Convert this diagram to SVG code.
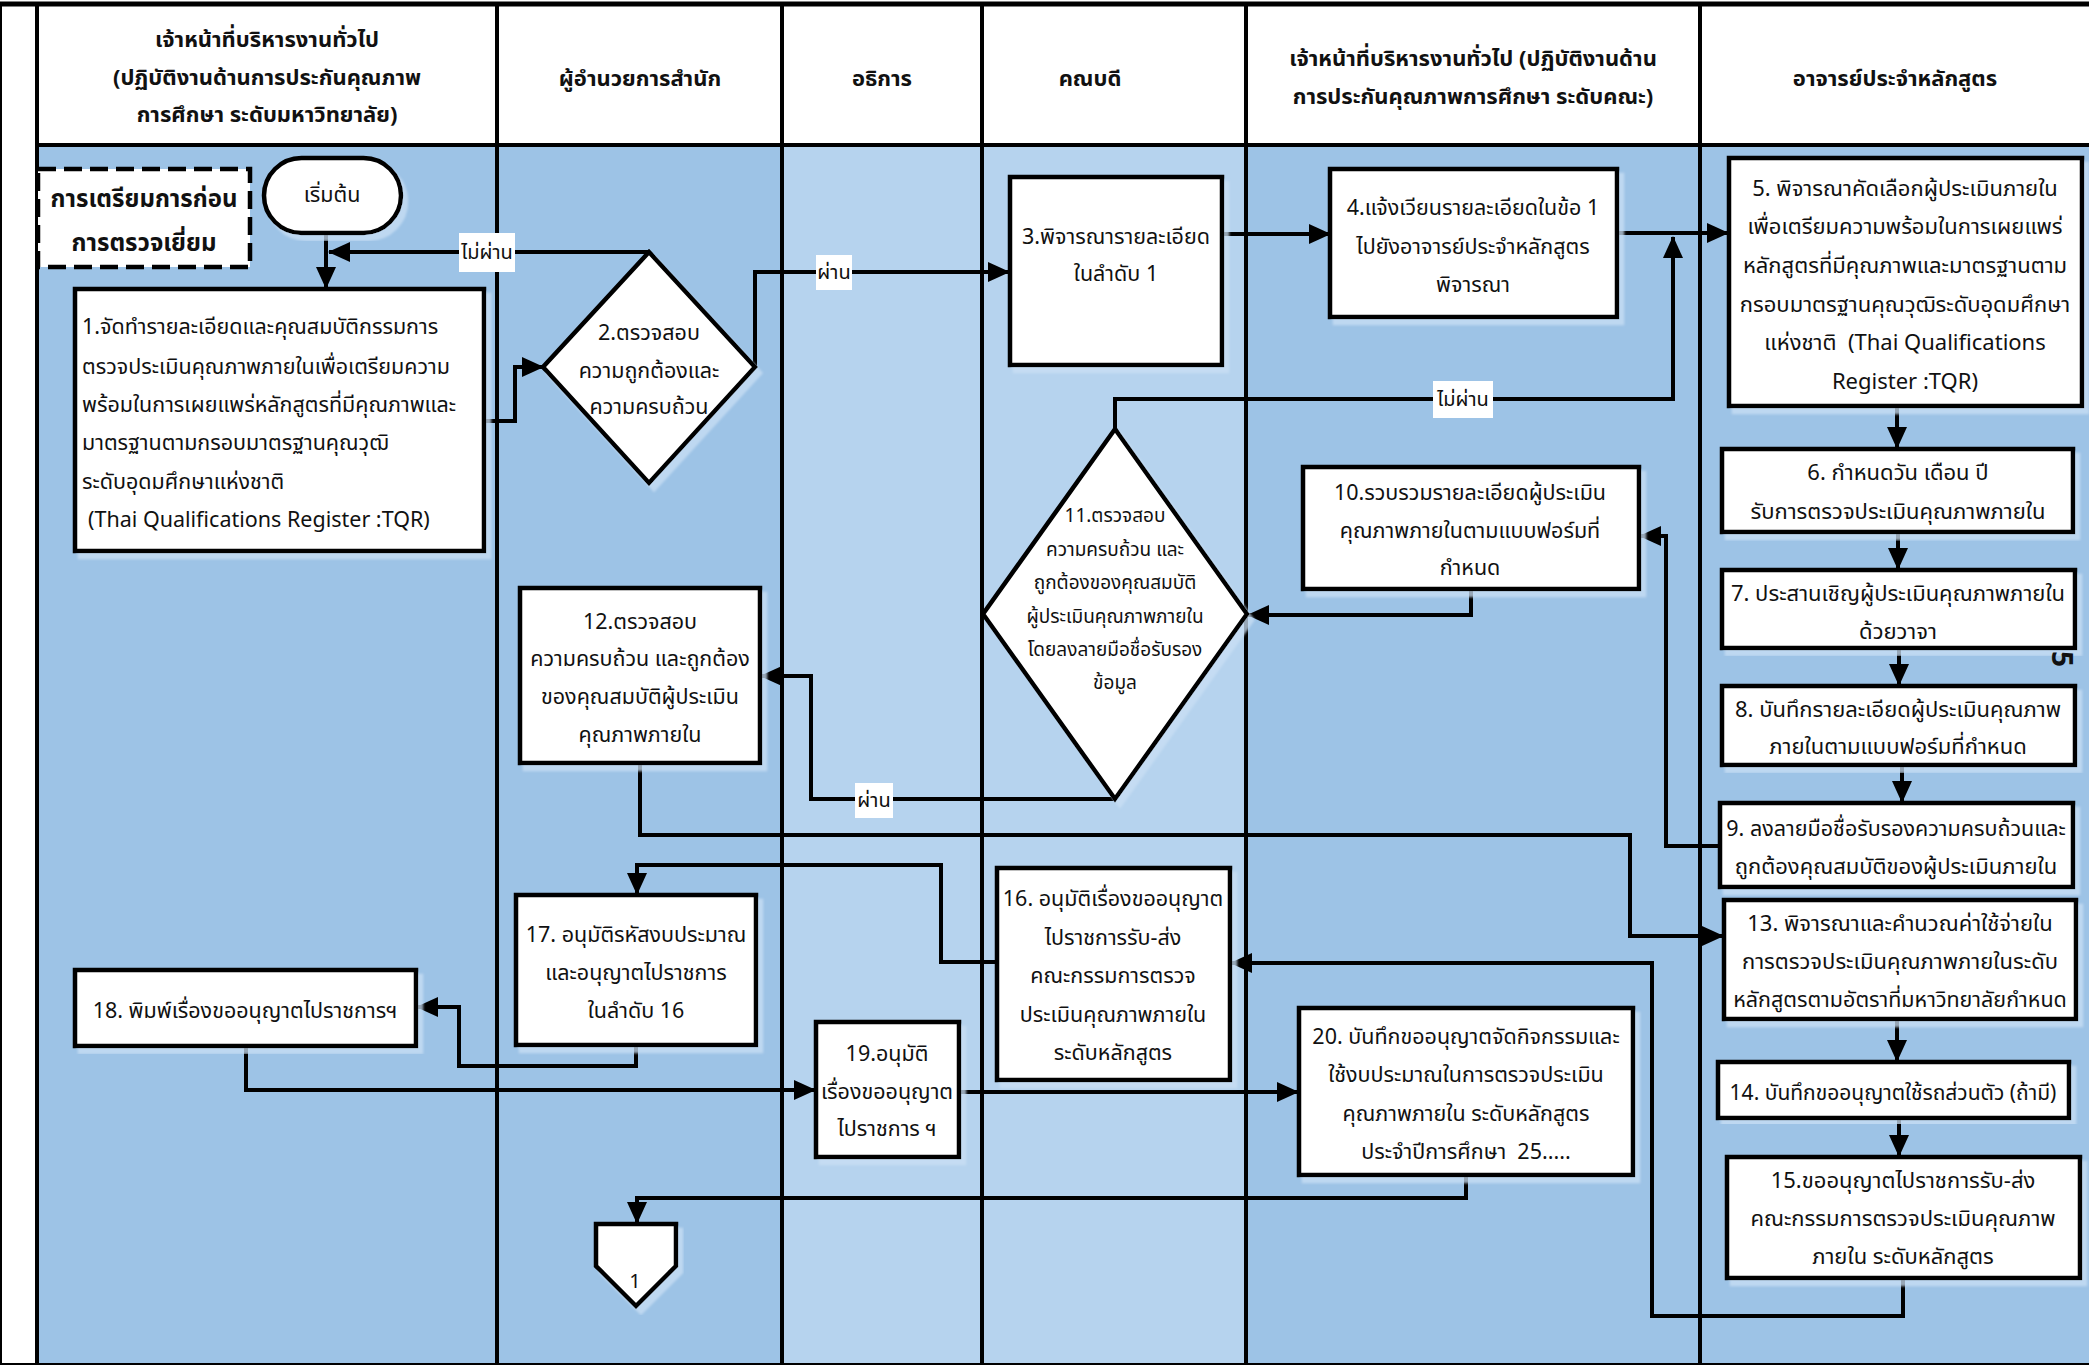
<svg xmlns="http://www.w3.org/2000/svg" width="2089" height="1365" viewBox="0 0 2089 1365">
  <defs>
    <style>
      .laneA { fill: #9dc3e6; }
      .laneB { fill: #b6d3ee; }
      .hdr { fill: #ffffff; }
      .sep { stroke: #000; stroke-width: 4; fill: none; }
      .box { fill: #ffffff; stroke: #000; stroke-width: 4.5; filter: url(#sh); }
      .wire { fill: none; stroke: #000; stroke-width: 4; marker-end: url(#ah); }
      .tag { fill: #ffffff; }
      text { font-family: "Noto Sans", "Noto Sans Thai", "DejaVu Sans", sans-serif; fill: #111; }
      .h { font-size: 22px; font-weight: bold; text-anchor: middle; }
      .c { font-size: 21.5px; text-anchor: middle; }
      .lb { font-size: 20px; text-anchor: middle; }
      .l { font-size: 21.5px; text-anchor: start; }
      .w { font-size: 22px; text-anchor: middle; }
      .s { font-size: 19px; text-anchor: middle; }
      .ttl { font-size: 24px; font-weight: bold; text-anchor: middle; }
    </style>
    <marker id="ah" markerUnits="userSpaceOnUse" markerWidth="22" markerHeight="20" refX="21" refY="10" orient="auto">
      <path d="M0,0 L22,10 L0,20 z" fill="#000"/>
    </marker>
    <!-- soft pale offset behind each shape -->
    <filter id="sh" x="-5%" y="-5%" width="115%" height="115%">
      <feDropShadow dx="5" dy="6" stdDeviation="1" flood-color="#c9dff4" flood-opacity="0.75"/>
    </filter>
  </defs>

  <!-- page background -->
  <rect x="0" y="0" width="2089" height="1365" fill="#ffffff"/>

  <!-- swimlane bodies -->
  <g id="lanes">
    <rect class="laneA" x="37" y="145" width="460" height="1220"/>
    <rect class="laneA" x="497" y="145" width="285" height="1220"/>
    <rect class="laneB" x="782" y="145" width="200" height="1220"/>
    <rect class="laneB" x="982" y="145" width="264" height="1220"/>
    <rect class="laneA" x="1246" y="145" width="454" height="1220"/>
    <rect class="laneA" x="1700" y="145" width="389" height="1220"/>
  </g>

  <!-- lane headers -->
  <g id="headers">
    <rect class="hdr" x="37" y="6" width="2052" height="139"/>
    <text class="h" x="267" y="47">เจ้าหน้าที่บริหารงานทั่วไป</text>
    <text class="h" x="267" y="85">(ปฏิบัติงานด้านการประกันคุณภาพ</text>
    <text class="h" x="267" y="122">การศึกษา ระดับมหาวิทยาลัย)</text>
    <text class="h" x="640" y="86">ผู้อำนวยการสำนัก</text>
    <text class="h" x="882" y="86">อธิการ</text>
    <text class="h" x="1090" y="86">คณบดี</text>
    <text class="h" x="1473" y="66">เจ้าหน้าที่บริหารงานทั่วไป (ปฏิบัติงานด้าน</text>
    <text class="h" x="1473" y="104">การประกันคุณภาพการศึกษา ระดับคณะ)</text>
    <text class="h" x="1895" y="86">อาจารย์ประจำหลักสูตร</text>
  </g>

  <!-- grid lines -->
  <g id="grid">
    <line class="sep" x1="0" y1="4" x2="2089" y2="4" style="stroke-width:5"/>
    <line class="sep" x1="37" y1="145" x2="2089" y2="145"/>
    <line class="sep" x1="1" y1="4" x2="1" y2="1365" style="stroke-width:2"/>
    <line class="sep" x1="37" y1="4" x2="37" y2="1365"/>
    <line class="sep" x1="497" y1="4" x2="497" y2="1365"/>
    <line class="sep" x1="782" y1="4" x2="782" y2="1365"/>
    <line class="sep" x1="982" y1="4" x2="982" y2="1365"/>
    <line class="sep" x1="1246" y1="4" x2="1246" y2="1365"/>
    <line class="sep" x1="1700" y1="4" x2="1700" y2="1365"/>
    <line class="sep" x1="0" y1="1364" x2="2089" y2="1364" style="stroke-width:2"/>
  </g>

  <!-- connectors -->
  <g id="connectors">
    <path class="wire" d="M326,233 V288"/>
    <path class="wire" d="M649,252 H329"/>
    <path class="wire" d="M484,421 H515 V367 H543"/>
    <path class="wire" d="M755,367 V272 H1009"/>
    <path class="wire" d="M1222,234 H1330"/>
    <path class="wire" d="M1617,233 H1728"/>
    <path class="wire" d="M1115,429 V399 H1673 V237"/>
    <path class="wire" d="M1897,407 V448"/>
    <path class="wire" d="M1898,532 V569"/>
    <path class="wire" d="M1899,648 V685"/>
    <path class="wire" d="M1902,765 V802"/>
    <path class="wire" d="M1720,846 H1666 V536 H1640"/>
    <path class="wire" d="M1471,590 V615 H1248"/>
    <path class="wire" d="M1114,799 H811 V676 H761"/>
    <path class="wire" d="M640,763 V835 H1630 V936 H1723"/>
    <path class="wire" d="M1897,1019 V1061"/>
    <path class="wire" d="M1899,1118 V1156"/>
    <path class="wire" d="M1903,1278 V1316 H1652 V963 H1231"/>
    <path class="wire" d="M997,962 H941 V865 H637 V894"/>
    <path class="wire" d="M636,1045 V1066 H459 V1007 H417"/>
    <path class="wire" d="M246,1046 V1090 H815"/>
    <path class="wire" d="M959,1092 H1298"/>
    <path class="wire" d="M1466,1175 V1198 H637 V1223"/>
    <rect class="tag" x="459" y="233" width="56" height="39"/>
    <text class="lb" x="487" y="259">ไม่ผ่าน</text>
    <rect class="tag" x="816" y="255" width="36" height="35"/>
    <text class="lb" x="834" y="279">ผ่าน</text>
    <rect class="tag" x="1433" y="381" width="60" height="37"/>
    <text class="lb" x="1463" y="406">ไม่ผ่าน</text>
    <rect class="tag" x="855" y="783" width="38" height="35"/>
    <text class="lb" x="874" y="807">ผ่าน</text>
  </g>

  <!-- nodes -->
  <g id="n-title">
    <rect x="38" y="169" width="212" height="98" fill="#fff" stroke="#000" stroke-width="4.5" stroke-dasharray="18,8"/>
    <text class="ttl" x="144" y="207">การเตรียมการก่อน</text>
    <text class="ttl" x="144" y="251">การตรวจเยี่ยม</text>
  </g>

  <g id="n-start">
    <rect class="box" x="264" y="158" width="137" height="75" rx="37.5"/>
    <text class="c" x="332" y="202">เริ่มต้น</text>
  </g>

  <g id="n1">
    <rect class="box" x="75" y="289" width="409" height="262"/>
    <text class="l" x="82" y="334">1.จัดทำรายละเอียดและคุณสมบัติกรรมการ</text>
    <text class="l" x="82" y="374">ตรวจประเมินคุณภาพภายในเพื่อเตรียมความ</text>
    <text class="l" x="82" y="412">พร้อมในการเผยแพร่หลักสูตรที่มีคุณภาพและ</text>
    <text class="l" x="82" y="450">มาตรฐานตามกรอบมาตรฐานคุณวุฒิ</text>
    <text class="l" x="82" y="489">ระดับอุดมศึกษาแห่งชาติ</text>
    <text class="l" x="88" y="527">(Thai Qualifications Register :TQR)</text>
  </g>

  <g id="n2">
    <polygon class="box" points="649,252 755,367 649,483 543,367"/>
    <text class="c" x="649" y="340">2.ตรวจสอบ</text>
    <text class="c" x="649" y="378">ความถูกต้องและ</text>
    <text class="c" x="649" y="414">ความครบถ้วน</text>
  </g>

  <g id="n3">
    <rect class="box" x="1010" y="177" width="212" height="188"/>
    <text class="c" x="1116" y="244">3.พิจารณารายละเอียด</text>
    <text class="c" x="1116" y="281">ในลำดับ 1</text>
  </g>

  <g id="n4">
    <rect class="box" x="1330" y="169" width="287" height="148"/>
    <text class="c" x="1473" y="215">4.แจ้งเวียนรายละเอียดในข้อ 1</text>
    <text class="c" x="1473" y="254">ไปยังอาจารย์ประจำหลักสูตร</text>
    <text class="c" x="1473" y="292">พิจารณา</text>
  </g>

  <g id="n5">
    <rect class="box" x="1729" y="158" width="353" height="248"/>
    <text class="w" x="1905" y="196">5. พิจารณาคัดเลือกผู้ประเมินภายใน</text>
    <text class="w" x="1905" y="234">เพื่อเตรียมความพร้อมในการเผยแพร่</text>
    <text class="w" x="1905" y="273">หลักสูตรที่มีคุณภาพและมาตรฐานตาม</text>
    <text class="w" x="1905" y="312">กรอบมาตรฐานคุณวุฒิระดับอุดมศึกษา</text>
    <text class="w" x="1905" y="350">แห่งชาติ&#160; (Thai Qualifications</text>
    <text class="w" x="1905" y="389">Register :TQR)</text>
  </g>

  <g id="n6">
    <rect class="box" x="1722" y="449" width="351" height="83"/>
    <text class="w" x="1898" y="480">6. กำหนดวัน เดือน ปี</text>
    <text class="w" x="1898" y="519">รับการตรวจประเมินคุณภาพภายใน</text>
  </g>

  <g id="n7">
    <rect class="box" x="1722" y="570" width="353" height="78"/>
    <text class="w" x="1898" y="601">7. ประสานเชิญผู้ประเมินคุณภาพภายใน</text>
    <text class="w" x="1898" y="639">ด้วยวาจา</text>
  </g>

  <g id="n8">
    <rect class="box" x="1722" y="686" width="353" height="79"/>
    <text class="w" x="1898" y="717">8. บันทึกรายละเอียดผู้ประเมินคุณภาพ</text>
    <text class="w" x="1898" y="754">ภายในตามแบบฟอร์มที่กำหนด</text>
  </g>

  <g id="n9">
    <rect class="box" x="1720" y="803" width="353" height="84"/>
    <text class="w" x="1896" y="836" style="font-size:21.5px">9. ลงลายมือชื่อรับรองความครบถ้วนและ</text>
    <text class="w" x="1896" y="874">ถูกต้องคุณสมบัติของผู้ประเมินภายใน</text>
  </g>

  <g id="n10">
    <rect class="box" x="1303" y="467" width="336" height="122"/>
    <text class="c" x="1470" y="500">10.รวบรวมรายละเอียดผู้ประเมิน</text>
    <text class="c" x="1470" y="538">คุณภาพภายในตามแบบฟอร์มที่</text>
    <text class="c" x="1470" y="575">กำหนด</text>
  </g>

  <g id="n11">
    <polygon class="box" points="1115,429 1247,614 1115,799 983,614"/>
    <text class="s" x="1115" y="522">11.ตรวจสอบ</text>
    <text class="s" x="1115" y="556">ความครบถ้วน และ</text>
    <text class="s" x="1115" y="589">ถูกต้องของคุณสมบัติ</text>
    <text class="s" x="1115" y="623">ผู้ประเมินคุณภาพภายใน</text>
    <text class="s" x="1115" y="656">โดยลงลายมือชื่อรับรอง</text>
    <text class="s" x="1115" y="689">ข้อมูล</text>
  </g>

  <g id="n12">
    <rect class="box" x="520" y="588" width="240" height="175"/>
    <text class="c" x="640" y="629">12.ตรวจสอบ</text>
    <text class="c" x="640" y="666">ความครบถ้วน และถูกต้อง</text>
    <text class="c" x="640" y="704">ของคุณสมบัติผู้ประเมิน</text>
    <text class="c" x="640" y="742">คุณภาพภายใน</text>
  </g>

  <g id="n13">
    <rect class="box" x="1724" y="900" width="352" height="119"/>
    <text class="w" x="1900" y="931">13. พิจารณาและคำนวณค่าใช้จ่ายใน</text>
    <text class="w" x="1900" y="969">การตรวจประเมินคุณภาพภายในระดับ</text>
    <text class="w" x="1900" y="1007" style="font-size:21.5px">หลักสูตรตามอัตราที่มหาวิทยาลัยกำหนด</text>
  </g>

  <g id="n14">
    <rect class="box" x="1718" y="1062" width="351" height="56"/>
    <text class="w" x="1893" y="1100" style="font-size:21px">14. บันทึกขออนุญาตใช้รถส่วนตัว (ถ้ามี)</text>
  </g>

  <g id="n15">
    <rect class="box" x="1727" y="1157" width="353" height="121"/>
    <text class="w" x="1903" y="1188">15.ขออนุญาตไปราชการรับ-ส่ง</text>
    <text class="w" x="1903" y="1226">คณะกรรมการตรวจประเมินคุณภาพ</text>
    <text class="w" x="1903" y="1264">ภายใน ระดับหลักสูตร</text>
  </g>

  <g id="n16">
    <rect class="box" x="997" y="868" width="233" height="212"/>
    <text class="c" x="1113" y="906">16. อนุมัติเรื่องขออนุญาต</text>
    <text class="c" x="1113" y="945">ไปราชการรับ-ส่ง</text>
    <text class="c" x="1113" y="983">คณะกรรมการตรวจ</text>
    <text class="c" x="1113" y="1022">ประเมินคุณภาพภายใน</text>
    <text class="c" x="1113" y="1060">ระดับหลักสูตร</text>
  </g>

  <g id="n17">
    <rect class="box" x="516" y="895" width="240" height="150"/>
    <text class="c" x="636" y="942">17. อนุมัติรหัสงบประมาณ</text>
    <text class="c" x="636" y="980">และอนุญาตไปราชการ</text>
    <text class="c" x="636" y="1018">ในลำดับ 16</text>
  </g>

  <g id="n18">
    <rect class="box" x="75" y="970" width="341" height="76"/>
    <text class="c" x="245" y="1018">18. พิมพ์เรื่องขออนุญาตไปราชการฯ</text>
  </g>

  <g id="n19">
    <rect class="box" x="816" y="1022" width="143" height="135"/>
    <text class="c" x="887" y="1061">19.อนุมัติ</text>
    <text class="c" x="887" y="1099">เรื่องขออนุญาต</text>
    <text class="c" x="887" y="1136">ไปราชการ ฯ</text>
  </g>

  <g id="n20">
    <rect class="box" x="1299" y="1008" width="334" height="167"/>
    <text class="c" x="1466" y="1044">20. บันทึกขออนุญาตจัดกิจกรรมและ</text>
    <text class="c" x="1466" y="1082">ใช้งบประมาณในการตรวจประเมิน</text>
    <text class="c" x="1466" y="1121">คุณภาพภายใน ระดับหลักสูตร</text>
    <text class="c" x="1466" y="1159">ประจำปีการศึกษา&#160; 25.....</text>
  </g>

  <g id="n-offpage">
    <polygon class="box" points="596,1224 676,1224 676,1266 636,1306 596,1266"/>
    <text class="lb" x="635" y="1288">1</text>
  </g>

  <!-- page number, printed sideways -->
  <text x="0" y="0" font-size="28" font-weight="bold" transform="translate(2052,651) rotate(90)">5</text>
</svg>
